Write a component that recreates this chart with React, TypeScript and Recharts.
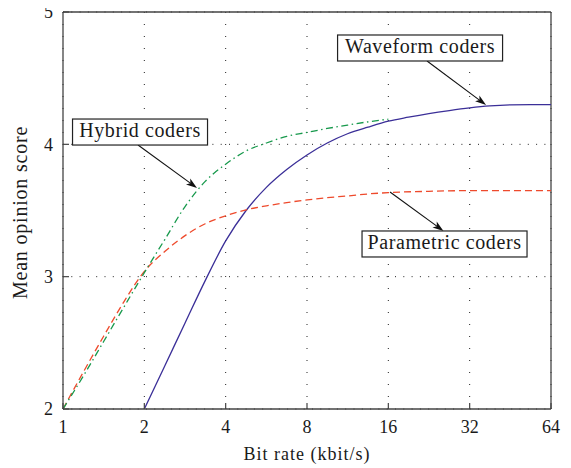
import React from 'react';
import { LineChart, Line, XAxis, YAxis, CartesianGrid, ReferenceLine, ReferenceDot } from 'recharts';

const rateTicks = [1, 2, 4, 8, 16, 32, 64];
const mosTicks = [2, 3, 4, 5];

const waveformRate = [2, 2.38, 2.83, 3.36, 4, 4.76, 5.66, 6.73, 8, 9.51, 11.3, 13.45, 16, 19, 22.6, 26.9, 32, 38, 45.3, 53.8, 64];
const waveformMos = [2.0, 2.325, 2.65, 2.97, 3.27, 3.5, 3.675, 3.81, 3.92, 4.01, 4.08, 4.13, 4.175, 4.205, 4.232, 4.255, 4.275, 4.29, 4.298, 4.3, 4.3];

const parametricRate = [1, 1.19, 1.414, 1.68, 2, 2.38, 2.83, 3.36, 4, 4.76, 5.66, 6.73, 8, 9.51, 11.3, 13.45, 16, 22.6, 32, 64];
const parametricMos = [2.0, 2.28, 2.55, 2.81, 3.04, 3.19, 3.31, 3.4, 3.46, 3.505, 3.535, 3.56, 3.58, 3.597, 3.61, 3.625, 3.635, 3.645, 3.65, 3.65];

const hybridRate = [1, 1.19, 1.414, 1.68, 2, 2.38, 2.83, 3.36, 4, 4.76, 5.66, 6.73, 8, 9.51, 11.3, 13.45, 16];
const hybridMos = [2.0, 2.25, 2.51, 2.77, 3.03, 3.28, 3.53, 3.72, 3.85, 3.95, 4.01, 4.06, 4.09, 4.12, 4.145, 4.17, 4.19];

const annotationLabels = ['Hybrid coders', 'Waveform coders', 'Parametric coders'];
const annotationBoxRate = [1.928, 20.97, 25.83];
const annotationBoxMos = [4.093, 4.728, 3.247];
const arrowFromRate = [1.895, 22.25, 16.23];
const arrowFromMos = [3.995, 4.63, 3.64];
const arrowToRate = [3.133, 36.8, 25.6];
const arrowToMos = [3.67, 4.297, 3.345];

const toPoints = (r: number[], m: number[]) => r.map((x, i) => ({ rate: x, mos: m[i] }));

const waveformData = toPoints(waveformRate, waveformMos);
const parametricData = toPoints(parametricRate, parametricMos);
const hybridData = toPoints(hybridRate, hybridMos);

const FONT = '"Liberation Serif", "Times New Roman", serif';
const BOX_WIDTHS = [135, 165, 165];

function Arrow(props: any) {
  const { x1, y1, x2, y2 } = props;
  const dx = x2 - x1;
  const dy = y2 - y1;
  const len = Math.hypot(dx, dy) || 1;
  const ux = dx / len;
  const uy = dy / len;
  const hl = 11;
  const hw = 3.6;
  const bx = x2 - ux * hl;
  const by = y2 - uy * hl;
  const nx = x2 - ux * (hl * 0.75);
  const ny = y2 - uy * (hl * 0.75);
  return (
    <g>
      <line x1={x1} y1={y1} x2={nx} y2={ny} stroke="#111" strokeWidth={1.1} />
      <polygon
        points={`${x2},${y2} ${bx - uy * hw},${by + ux * hw} ${nx},${ny} ${bx + uy * hw},${by - ux * hw}`}
        fill="#111"
      />
    </g>
  );
}

const makeBox = (label: string, w: number) => (props: any) => {
  const { cx, cy } = props;
  return (
    <g>
      <rect x={cx - w / 2} y={cy - 13} width={w} height={26} fill="#fff" stroke="#222" strokeWidth={1.2} />
      <text x={cx} y={cy + 5} textAnchor="middle" fontSize={20} letterSpacing={0.6} fill="#1a1a1a" fontFamily={FONT}>
        {label}
      </text>
    </g>
  );
};

const XTitle = (props: any) => {
  const vb = props.viewBox || { x: 63, y: 409, width: 488, height: 59 };
  return (
    <text x={vb.x + vb.width / 2} y={vb.y + 51} textAnchor="middle" fontSize={18} letterSpacing={1} fill="#1a1a1a" fontFamily={FONT}>
      Bit rate (kbit/s)
    </text>
  );
};

const YTitle = (props: any) => {
  const vb = props.viewBox || { x: 8, y: 12, width: 55, height: 397 };
  const cx = 27.3;
  const cy = vb.y + vb.height / 2 + 2;
  return (
    <text
      x={cx}
      y={cy}
      transform={`rotate(-90, ${cx}, ${cy})`}
      textAnchor="middle"
      fontSize={20}
      letterSpacing={0.8}
      fill="#1a1a1a"
      fontFamily={FONT}
    >
      Mean opinion score
    </text>
  );
};

export default function App() {
  const tickStyle = { fill: '#1a1a1a', fontSize: 18, fontFamily: FONT };
  return (
    <div style={{ width: 571, height: 468, margin: '-8px 0 0 -8px' }}>
      <LineChart width={571} height={468} margin={{ top: 12, right: 20, left: 8, bottom: 0 }} style={{ fontFamily: FONT }}>
        <CartesianGrid horizontal={false} stroke="#222" strokeWidth={1} strokeDasharray="1 11" />
        <CartesianGrid vertical={false} stroke="#222" strokeWidth={1} strokeDasharray="1 7.3" />
        <XAxis
          dataKey="rate"
          type="number"
          scale="log"
          domain={[1, 64]}
          ticks={rateTicks}
          interval={0}
          allowDataOverflow
          height={59}
          tickSize={-6}
          tickMargin={17}
          axisLine={{ stroke: '#444', strokeWidth: 1.3 }}
          tickLine={{ stroke: '#444', strokeWidth: 1.2 }}
          tick={tickStyle}
          label={<XTitle />}
        />
        <YAxis
          dataKey="mos"
          type="number"
          domain={[2, 5]}
          ticks={mosTicks}
          interval={0}
          allowDataOverflow
          width={55}
          tickSize={-6}
          tickMargin={16}
          axisLine={{ stroke: '#444', strokeWidth: 1.3 }}
          tickLine={{ stroke: '#444', strokeWidth: 1.2 }}
          tick={tickStyle}
          label={<YTitle />}
        />
        <ReferenceLine y={5} stroke="#444" strokeWidth={1.3} ifOverflow="visible" />
        <ReferenceLine x={64} stroke="#444" strokeWidth={1.3} ifOverflow="visible" />
        <Line
          data={waveformData}
          dataKey="mos"
          type="monotone"
          stroke="#3b2f98"
          strokeWidth={1.3}
          dot={false}
          isAnimationActive={false}
        />
        <Line
          data={parametricData}
          dataKey="mos"
          type="monotone"
          stroke="#ee4a2c"
          strokeWidth={1.3}
          strokeDasharray="7 4"
          dot={false}
          isAnimationActive={false}
        />
        <Line
          data={hybridData}
          dataKey="mos"
          type="monotone"
          stroke="#17994c"
          strokeWidth={1.3}
          strokeDasharray="7 3.5 1.5 3.5"
          dot={false}
          isAnimationActive={false}
        />
        {annotationLabels.map((label, i) => (
          <ReferenceLine
            key={'arrow-' + i}
            segment={[
              { x: arrowFromRate[i], y: arrowFromMos[i] },
              { x: arrowToRate[i], y: arrowToMos[i] },
            ]}
            ifOverflow="visible"
            shape={(p: any) => <Arrow {...p} />}
          />
        ))}
        {annotationLabels.map((label, i) => (
          <ReferenceDot
            key={'box-' + i}
            x={annotationBoxRate[i]}
            y={annotationBoxMos[i]}
            r={1}
            ifOverflow="visible"
            shape={makeBox(label, BOX_WIDTHS[i])}
          />
        ))}
      </LineChart>
    </div>
  );
}
